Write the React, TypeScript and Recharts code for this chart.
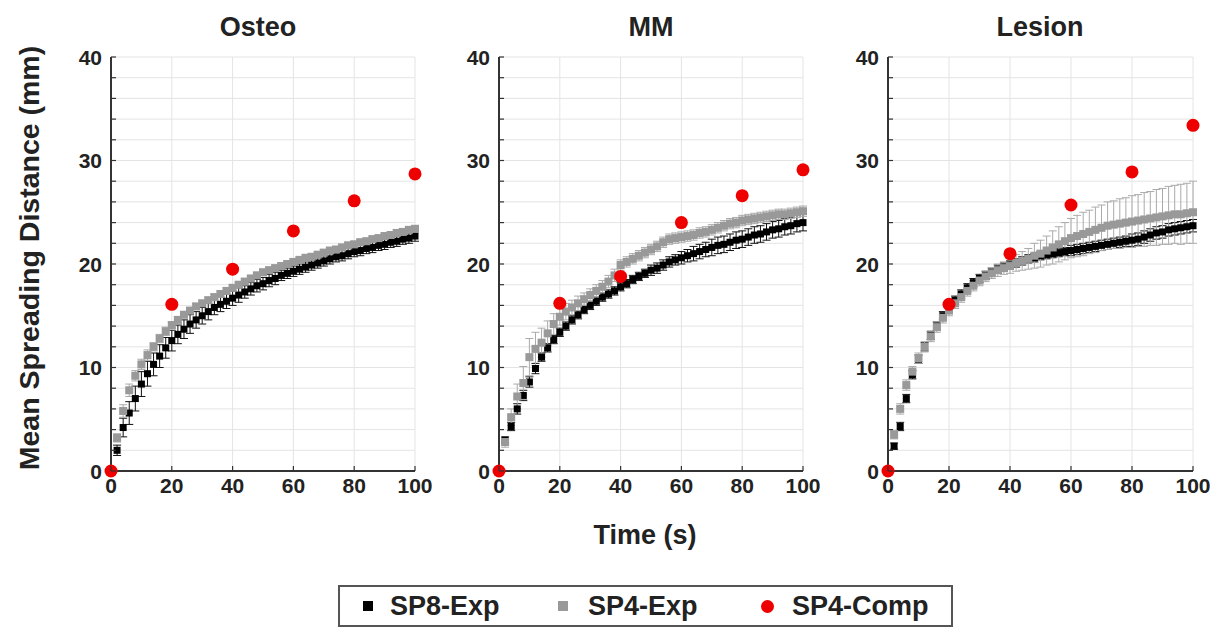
import React from 'react'
import { ScatterChart, Scatter, XAxis, YAxis, CartesianGrid, ErrorBar } from 'recharts'

const FONT = "'Liberation Sans', Arial, sans-serif"
const AXIS = '#333'

const TIME = [0, 2, 4, 6, 8, 10, 12, 14, 16, 18, 20, 22, 24, 26, 28, 30, 32, 34, 36, 38, 40, 42, 44, 46, 48, 50, 52, 54, 56, 58, 60, 62, 64, 66, 68, 70, 72, 74, 76, 78, 80, 82, 84, 86, 88, 90, 92, 94, 96, 98, 100]
const COMP_TIME = [0, 20, 40, 60, 80, 100]
const X_TICKS = [0, 20, 40, 60, 80, 100]
const Y_TICKS = [0, 2, 4, 6, 8, 10, 12, 14, 16, 18, 20, 22, 24, 26, 28, 30, 32, 34, 36, 38, 40]

// Osteo
const OSTEO_SP8 = [0, 2.0, 4.2, 5.6, 7.0, 8.4, 9.4, 10.3, 11.1, 11.9, 12.6, 13.2, 13.7, 14.2, 14.6, 15.0, 15.4, 15.8, 16.1, 16.4, 16.7, 17.0, 17.3, 17.6, 17.9, 18.1, 18.4, 18.6, 18.9, 19.1, 19.3, 19.5, 19.7, 19.9, 20.1, 20.3, 20.5, 20.7, 20.8, 21.0, 21.2, 21.3, 21.5, 21.6, 21.8, 21.9, 22.1, 22.2, 22.4, 22.5, 22.7]
const OSTEO_SP8_ERR = [0, 0.5, 0.9, 1.1, 1.2, 1.2, 1.2, 1.1, 1.1, 1.0, 1.0, 0.9, 0.9, 0.9, 0.8, 0.8, 0.8, 0.7, 0.7, 0.7, 0.7, 0.7, 0.6, 0.6, 0.6, 0.6, 0.6, 0.6, 0.5, 0.5, 0.5, 0.5, 0.5, 0.5, 0.5, 0.5, 0.5, 0.5, 0.5, 0.5, 0.5, 0.5, 0.5, 0.5, 0.5, 0.5, 0.5, 0.5, 0.5, 0.5, 0.5]
const OSTEO_SP4 = [0, 3.2, 5.8, 7.8, 9.2, 10.3, 11.2, 12.0, 12.8, 13.5, 14.1, 14.6, 15.1, 15.5, 15.9, 16.2, 16.5, 16.8, 17.1, 17.4, 17.7, 18.0, 18.3, 18.6, 18.9, 19.2, 19.4, 19.6, 19.8, 20.0, 20.2, 20.4, 20.6, 20.7, 20.9, 21.1, 21.3, 21.4, 21.6, 21.8, 21.9, 22.1, 22.2, 22.4, 22.5, 22.7, 22.8, 23.0, 23.1, 23.3, 23.4]
const OSTEO_SP4_ERR = [0, 0.4, 0.6, 0.6, 0.5, 0.5, 0.5, 0.4, 0.4, 0.4, 0.3, 0.3, 0.3, 0.3, 0.3, 0.3, 0.3, 0.3, 0.3, 0.3, 0.3, 0.3, 0.3, 0.3, 0.3, 0.3, 0.3, 0.3, 0.3, 0.3, 0.3, 0.3, 0.3, 0.3, 0.3, 0.3, 0.3, 0.3, 0.3, 0.3, 0.3, 0.3, 0.3, 0.3, 0.3, 0.3, 0.3, 0.3, 0.3, 0.3, 0.3]
const OSTEO_COMP = [0, 16.1, 19.5, 23.2, 26.1, 28.7]

// MM
const MM_SP8 = [0, 3.0, 4.3, 6.0, 7.3, 8.6, 9.9, 11.0, 11.9, 12.7, 13.4, 14.0, 14.6, 15.1, 15.6, 16.0, 16.4, 16.8, 17.1, 17.4, 17.8, 18.1, 18.5, 18.8, 19.1, 19.4, 19.6, 19.9, 20.2, 20.4, 20.6, 20.8, 21.0, 21.2, 21.4, 21.6, 21.8, 21.9, 22.1, 22.3, 22.4, 22.6, 22.8, 22.9, 23.1, 23.3, 23.4, 23.6, 23.7, 23.9, 24.0]
const MM_SP8_ERR = [0, 0.3, 0.4, 0.5, 0.5, 0.5, 0.5, 0.4, 0.4, 0.4, 0.4, 0.4, 0.4, 0.4, 0.4, 0.4, 0.4, 0.4, 0.4, 0.4, 0.4, 0.4, 0.4, 0.4, 0.4, 0.5, 0.5, 0.5, 0.5, 0.5, 0.6, 0.6, 0.7, 0.7, 0.7, 0.8, 0.8, 0.8, 0.8, 0.8, 0.8, 0.8, 0.8, 0.8, 0.8, 0.8, 0.8, 0.8, 0.8, 0.8, 0.8]
const MM_SP4 = [0, 2.8, 5.2, 7.2, 8.5, 11.0, 11.8, 12.4, 13.3, 14.2, 14.9, 15.4, 15.8, 16.2, 16.6, 17.0, 17.4, 17.8, 18.3, 18.9, 19.9, 20.2, 20.5, 20.8, 21.1, 21.4, 21.7, 22.1, 22.4, 22.5, 22.6, 22.7, 22.8, 23.0, 23.1, 23.3, 23.5, 23.7, 23.9, 24.0, 24.2, 24.3, 24.4, 24.5, 24.6, 24.7, 24.8, 24.8, 24.9, 25.0, 25.1]
const MM_SP4_ERR = [0, 0.5, 0.8, 1.2, 1.6, 1.8, 1.6, 1.4, 1.2, 1.0, 0.8, 0.8, 0.7, 0.7, 0.6, 0.6, 0.6, 0.6, 0.6, 0.6, 0.5, 0.5, 0.5, 0.5, 0.5, 0.5, 0.5, 0.5, 0.5, 0.5, 0.5, 0.5, 0.5, 0.5, 0.5, 0.5, 0.5, 0.5, 0.5, 0.5, 0.5, 0.5, 0.5, 0.5, 0.5, 0.5, 0.5, 0.5, 0.5, 0.5, 0.5]
const MM_COMP = [0, 16.2, 18.8, 24.0, 26.6, 29.1]

// Lesion
const LESION_SP8 = [0, 2.4, 4.3, 7.0, 9.3, 10.8, 12.0, 13.1, 14.0, 15.0, 15.8, 16.5, 17.1, 17.7, 18.2, 18.6, 18.9, 19.2, 19.5, 19.7, 19.9, 20.1, 20.3, 20.5, 20.6, 20.8, 20.9, 21.0, 21.1, 21.2, 21.3, 21.4, 21.5, 21.6, 21.7, 21.8, 21.9, 22.0, 22.1, 22.2, 22.3, 22.4, 22.6, 22.8, 23.0, 23.1, 23.3, 23.4, 23.5, 23.6, 23.7]
const LESION_SP8_ERR = [0, 0.3, 0.4, 0.4, 0.4, 0.4, 0.4, 0.4, 0.4, 0.4, 0.4, 0.4, 0.4, 0.4, 0.4, 0.4, 0.4, 0.4, 0.4, 0.4, 0.4, 0.4, 0.4, 0.4, 0.4, 0.4, 0.4, 0.4, 0.4, 0.4, 0.5, 0.5, 0.5, 0.5, 0.5, 0.5, 0.5, 0.5, 0.5, 0.5, 0.6, 0.6, 0.6, 0.6, 0.6, 0.6, 0.6, 0.6, 0.6, 0.6, 0.6]
const LESION_SP4 = [0, 3.5, 6.0, 8.3, 9.6, 10.9, 12.0, 13.0, 13.9, 14.8, 15.5, 16.2, 16.8, 17.4, 17.9, 18.4, 18.8, 19.1, 19.4, 19.6, 19.8, 20.1, 20.3, 20.5, 20.8, 21.0, 21.3, 21.6, 21.9, 22.2, 22.5, 22.7, 22.9, 23.1, 23.3, 23.5, 23.7, 23.8, 23.9, 24.0, 24.1, 24.2, 24.3, 24.4, 24.5, 24.6, 24.7, 24.8, 24.8, 24.9, 25.0]
const LESION_SP4_ERR = [0, 0.4, 0.5, 0.5, 0.5, 0.5, 0.5, 0.5, 0.5, 0.5, 0.5, 0.5, 0.5, 0.5, 0.5, 0.5, 0.5, 0.5, 0.6, 0.6, 0.7, 0.8, 0.9, 1.0, 1.2, 1.3, 1.4, 1.6, 1.7, 1.8, 1.9, 2.0, 2.1, 2.1, 2.2, 2.2, 2.3, 2.3, 2.4, 2.4, 2.5, 2.5, 2.6, 2.6, 2.7, 2.7, 2.8, 2.8, 2.9, 2.9, 3.0]
const LESION_COMP = [0, 16.1, 21.0, 25.7, 28.9, 33.4]

const toRows = (ys: number[], errs: number[]) => TIME.map((t, i) => ({ t, y: ys[i], err: errs[i] }))
const toComp = (ys: number[]) => COMP_TIME.map((t, i) => ({ t, y: ys[i] }))

const panels = [
  { title: 'Osteo', left: 111, width: 304, titleX: 258, sp8: toRows(OSTEO_SP8, OSTEO_SP8_ERR), sp4: toRows(OSTEO_SP4, OSTEO_SP4_ERR), comp: toComp(OSTEO_COMP) },
  { title: 'MM', left: 499, width: 304, titleX: 651, sp8: toRows(MM_SP8, MM_SP8_ERR), sp4: toRows(MM_SP4, MM_SP4_ERR), comp: toComp(MM_COMP) },
  { title: 'Lesion', left: 888, width: 305, titleX: 1040, sp8: toRows(LESION_SP8, LESION_SP8_ERR), sp4: toRows(LESION_SP4, LESION_SP4_ERR), comp: toComp(LESION_COMP) },
]

const PLOT_TOP = 57
const PLOT_H = 414

const labelStyle = { fontSize: 21, fontWeight: 'bold' as const, fill: '#222', fontFamily: FONT }

const LeftTick = (p: any) => (
  <g>
    <line x1={p.x} y1={p.y} x2={p.x + 5} y2={p.y} stroke={AXIS} strokeWidth={1.2} />
    {p.payload.value % 10 === 0 && (
      <text x={p.x - 9} y={p.y} dy="0.36em" textAnchor="end" {...labelStyle}>{p.payload.value}</text>
    )}
  </g>
)
const RightTick = (p: any) => (
  <line x1={p.x} y1={p.y} x2={p.x - 5} y2={p.y} stroke={AXIS} strokeWidth={1.2} />
)
const BottomTick = (p: any) => (
  <g>
    <line x1={p.x} y1={p.y} x2={p.x} y2={p.y - 5} stroke={AXIS} strokeWidth={1.2} />
    <text x={p.x} y={p.y + 22} textAnchor="middle" {...labelStyle}>{p.payload.value}</text>
  </g>
)
const TopTick = (p: any) => (
  <line x1={p.x} y1={p.y} x2={p.x} y2={p.y + 5} stroke={AXIS} strokeWidth={1.2} />
)

const square = (color: string, s: number) => (p: any) => (
  <rect x={p.cx - s / 2} y={p.cy - s / 2} width={s} height={s} fill={color} />
)
const dot = (p: any) => <circle cx={p.cx} cy={p.cy} r={6.5} fill="#ee0000" />

function Panel({ panel }: { panel: typeof panels[number] }) {
  const ML = 50
  const MT = 10
  const MR = 30
  return (
    <div style={{ position: 'absolute', left: panel.left - ML, top: PLOT_TOP - MT }}>
      <ScatterChart width={panel.width + ML + MR} height={PLOT_H + MT + 35} margin={{ top: MT, right: MR, left: 0, bottom: 0 }}>
        <CartesianGrid xAxisId="x" yAxisId="y" stroke="#e4e4e4" strokeWidth={1} />
        <XAxis xAxisId="x" dataKey="t" type="number" domain={[0, 100]} ticks={X_TICKS} interval={0} height={35}
          tickSize={0} tickMargin={0} tick={BottomTick} axisLine={{ stroke: AXIS, strokeWidth: 2 }} tickLine={false} />
        <XAxis xAxisId="xt" orientation="top" type="number" domain={[0, 100]} ticks={[20, 40, 60, 80]} interval={0} height={0}
          tickSize={0} tickMargin={0} tick={TopTick} axisLine={{ stroke: AXIS, strokeWidth: 2 }} tickLine={false} />
        <YAxis yAxisId="y" dataKey="y" type="number" domain={[0, 40]} ticks={Y_TICKS} interval={0} width={ML}
          tickSize={0} tickMargin={0} tick={LeftTick} axisLine={{ stroke: AXIS, strokeWidth: 2 }} tickLine={false} />
        <YAxis yAxisId="yr" orientation="right" type="number" domain={[0, 40]} ticks={Y_TICKS} interval={0} width={0}
          tickSize={0} tickMargin={0} tick={RightTick} axisLine={{ stroke: AXIS, strokeWidth: 2 }} tickLine={false} />
        <Scatter xAxisId="x" yAxisId="y" data={panel.sp8} dataKey="y" shape={square('#000', 7)} isAnimationActive={false}>
          <ErrorBar dataKey="err" direction="y" width={4} stroke="#111" strokeWidth={1} />
        </Scatter>
        <Scatter xAxisId="x" yAxisId="y" data={panel.sp4} dataKey="y" shape={square('#999', 8)} isAnimationActive={false}>
          <ErrorBar dataKey="err" direction="y" width={4} stroke="#aaa" strokeWidth={1} />
        </Scatter>
        <Scatter xAxisId="x" yAxisId="y" data={panel.comp} dataKey="y" shape={dot} isAnimationActive={false} />
      </ScatterChart>
    </div>
  )
}

const textBase: React.CSSProperties = { position: 'absolute', fontFamily: FONT, fontWeight: 'bold', color: '#222', whiteSpace: 'nowrap' }

export default function App() {
  return (
    <div style={{ position: 'absolute', left: 0, top: 0, width: 1223, height: 630, background: '#fff', overflow: 'hidden' }}>
      {panels.map((p) => (
        <div key={p.title} style={{ ...textBase, fontSize: 27, left: p.titleX, top: 27, transform: 'translate(-50%, -50%)' }}>{p.title}</div>
      ))}
      {panels.map((p) => <Panel key={p.title} panel={p} />)}
      <div style={{ ...textBase, fontSize: 28.5, left: 29, top: 258, transform: 'translate(-50%, -50%) rotate(-90deg)' }}>
        Mean Spreading Distance (mm)
      </div>
      <div style={{ ...textBase, fontSize: 27, left: 645, top: 535, transform: 'translate(-50%, -50%)' }}>Time (s)</div>
      <div style={{ position: 'absolute', left: 338, top: 585, width: 611, height: 38, border: '2px solid #555', background: '#fff' }} />
      <div style={{ position: 'absolute', left: 363, top: 601, width: 10, height: 10, background: '#000' }} />
      <div style={{ ...textBase, fontSize: 27, left: 390, top: 606, transform: 'translateY(-50%)' }}>SP8-Exp</div>
      <div style={{ position: 'absolute', left: 558, top: 601, width: 10, height: 10, background: '#999' }} />
      <div style={{ ...textBase, fontSize: 27, left: 588, top: 606, transform: 'translateY(-50%)' }}>SP4-Exp</div>
      <div style={{ position: 'absolute', left: 761, top: 600, width: 13, height: 13, borderRadius: '50%', background: '#ee0000' }} />
      <div style={{ ...textBase, fontSize: 27, left: 792, top: 606, transform: 'translateY(-50%)' }}>SP4-Comp</div>
    </div>
  )
}
